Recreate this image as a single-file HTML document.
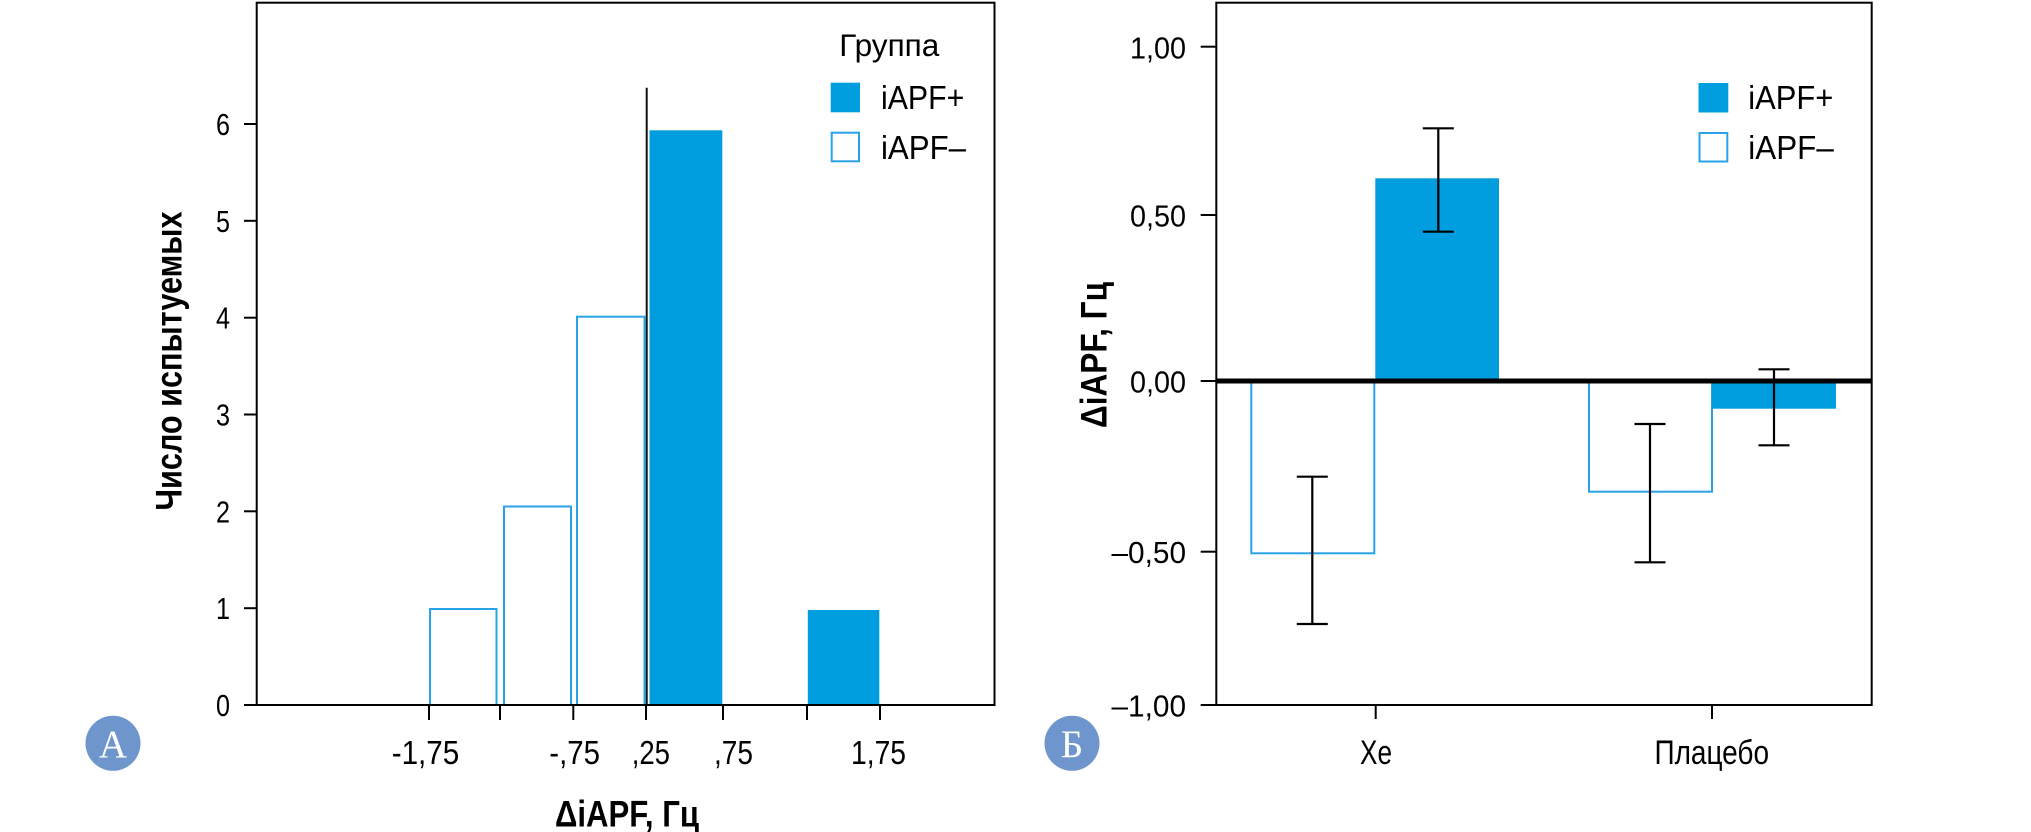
<!DOCTYPE html>
<html>
<head>
<meta charset="utf-8">
<style>
  html, body { margin: 0; padding: 0; background: #ffffff; }
  svg { display: block; }
  .t { font-family: "Liberation Sans", "DejaVu Sans", sans-serif; fill: #000; }
  .b { font-family: "Liberation Sans", "DejaVu Sans", sans-serif; font-weight: bold; fill: #000; }
  .s { font-family: "Liberation Serif", "DejaVu Serif", serif; fill: #fff; }
</style>
</head>
<body>
<svg width="2031" height="832" viewBox="0 0 2031 832" xmlns="http://www.w3.org/2000/svg">
  <rect x="0" y="0" width="2031" height="832" fill="#ffffff"/>

  <!-- ================= CHART A ================= -->
  <g fill="none" stroke="#2aa3e6" stroke-width="2">
    <rect x="430" y="609" width="66.5" height="96"/>
    <rect x="504" y="506.5" width="67" height="198.5"/>
    <rect x="577" y="316.7" width="67.5" height="388.3"/>
  </g>
  <g fill="#009ddf">
    <rect x="649.5" y="130.3" width="72.8" height="574.7"/>
    <rect x="807.8" y="610" width="71.5" height="95"/>
  </g>
  <line x1="646.7" y1="87.7" x2="646.7" y2="705" stroke="#111" stroke-width="2"/>
  <rect x="256.7" y="2.7" width="737.8" height="702.3" fill="none" stroke="#000" stroke-width="2"/>
  <g stroke="#000" stroke-width="2">
    <line x1="244" y1="705" x2="257" y2="705"/>
    <line x1="244" y1="608.2" x2="257" y2="608.2"/>
    <line x1="244" y1="511.3" x2="257" y2="511.3"/>
    <line x1="244" y1="414.5" x2="257" y2="414.5"/>
    <line x1="244" y1="317.7" x2="257" y2="317.7"/>
    <line x1="244" y1="220.8" x2="257" y2="220.8"/>
    <line x1="244" y1="124" x2="257" y2="124"/>
  </g>
  <g class="t" font-size="31">
    <text x="216" y="716" textLength="14" lengthAdjust="spacingAndGlyphs">0</text>
    <text x="216" y="619.2" textLength="14" lengthAdjust="spacingAndGlyphs">1</text>
    <text x="216" y="522.3" textLength="14" lengthAdjust="spacingAndGlyphs">2</text>
    <text x="216" y="425.5" textLength="14" lengthAdjust="spacingAndGlyphs">3</text>
    <text x="216" y="328.7" textLength="14" lengthAdjust="spacingAndGlyphs">4</text>
    <text x="216" y="231.8" textLength="14" lengthAdjust="spacingAndGlyphs">5</text>
    <text x="216" y="135" textLength="14" lengthAdjust="spacingAndGlyphs">6</text>
  </g>
  <g stroke="#000" stroke-width="2">
    <line x1="429" y1="705" x2="429" y2="720"/>
    <line x1="500" y1="705" x2="500" y2="720"/>
    <line x1="573.3" y1="705" x2="573.3" y2="720"/>
    <line x1="646" y1="705" x2="646" y2="720"/>
    <line x1="723" y1="705" x2="723" y2="720"/>
    <line x1="807" y1="705" x2="807" y2="720"/>
    <line x1="880" y1="705" x2="880" y2="720"/>
  </g>
  <g class="t" font-size="33.5">
    <text x="391.7" y="764" textLength="67.6" lengthAdjust="spacingAndGlyphs">-1,75</text>
    <text x="549.3" y="764" textLength="50.7" lengthAdjust="spacingAndGlyphs">-,75</text>
    <text x="631.7" y="764" textLength="38.3" lengthAdjust="spacingAndGlyphs">,25</text>
    <text x="714" y="764" textLength="39" lengthAdjust="spacingAndGlyphs">,75</text>
    <text x="851" y="764" textLength="55" lengthAdjust="spacingAndGlyphs">1,75</text>
  </g>
  <text class="b" x="555" y="826.5" font-size="37" textLength="144" lengthAdjust="spacingAndGlyphs">ΔiAPF, Гц</text>
  <text class="b" font-size="37" text-anchor="middle" transform="translate(181.5,361) rotate(-90)" textLength="299" lengthAdjust="spacingAndGlyphs">Число испытуемых</text>
  <text class="t" x="839.3" y="56" font-size="31.7" textLength="100" lengthAdjust="spacingAndGlyphs">Группа</text>
  <rect x="830.7" y="82.7" width="29.3" height="29.6" fill="#009ddf"/>
  <rect x="831.7" y="132.7" width="27.3" height="28.6" fill="none" stroke="#2aa3e6" stroke-width="2"/>
  <g class="t" font-size="33.5">
    <text x="881" y="109" textLength="83.3" lengthAdjust="spacingAndGlyphs">iAPF+</text>
    <text x="881" y="159" textLength="85" lengthAdjust="spacingAndGlyphs">iAPF–</text>
  </g>
  <circle cx="113" cy="743.3" r="27.5" fill="#6f95cd"/>
  <text class="s" x="113" y="757" font-size="39" text-anchor="middle">A</text>

  <!-- ================= CHART B ================= -->
  <rect x="1251.3" y="381" width="123" height="172.3" fill="none" stroke="#2aa3e6" stroke-width="2"/>
  <rect x="1375.3" y="178.3" width="123.7" height="202.7" fill="#009ddf"/>
  <rect x="1589" y="381" width="123" height="110.7" fill="none" stroke="#2aa3e6" stroke-width="2"/>
  <rect x="1712" y="381" width="124" height="27.7" fill="#009ddf"/>
  <line x1="1216.3" y1="381" x2="1871.7" y2="381" stroke="#000" stroke-width="5"/>
  <g stroke="#000" stroke-width="2.2" fill="none">
    <line x1="1312.3" y1="476.7" x2="1312.3" y2="624"/>
    <line x1="1296.8" y1="476.7" x2="1327.8" y2="476.7"/>
    <line x1="1296.8" y1="624" x2="1327.8" y2="624"/>

    <line x1="1438.3" y1="128.3" x2="1438.3" y2="231.7"/>
    <line x1="1422.8" y1="128.3" x2="1453.8" y2="128.3"/>
    <line x1="1422.8" y1="231.7" x2="1453.8" y2="231.7"/>

    <line x1="1650" y1="424" x2="1650" y2="562.3"/>
    <line x1="1634.5" y1="424" x2="1665.5" y2="424"/>
    <line x1="1634.5" y1="562.3" x2="1665.5" y2="562.3"/>

    <line x1="1774" y1="369.3" x2="1774" y2="445.3"/>
    <line x1="1758.5" y1="369.3" x2="1789.5" y2="369.3"/>
    <line x1="1758.5" y1="445.3" x2="1789.5" y2="445.3"/>
  </g>
  <rect x="1216.3" y="2.7" width="655.4" height="702.3" fill="none" stroke="#000" stroke-width="2"/>
  <g stroke="#000" stroke-width="2">
    <line x1="1200.7" y1="46.7" x2="1216.3" y2="46.7"/>
    <line x1="1200.7" y1="215" x2="1216.3" y2="215"/>
    <line x1="1200.7" y1="381" x2="1216.3" y2="381"/>
    <line x1="1200.7" y1="551.7" x2="1216.3" y2="551.7"/>
    <line x1="1200.7" y1="705" x2="1216.3" y2="705"/>
  </g>
  <g class="t" font-size="31" text-anchor="end">
    <text x="1186" y="58.5" textLength="56" lengthAdjust="spacingAndGlyphs">1,00</text>
    <text x="1186" y="226.5" textLength="56" lengthAdjust="spacingAndGlyphs">0,50</text>
    <text x="1186" y="392.5" textLength="56" lengthAdjust="spacingAndGlyphs">0,00</text>
    <text x="1186" y="563" textLength="74.5" lengthAdjust="spacingAndGlyphs">–0,50</text>
    <text x="1186" y="716.5" textLength="74.5" lengthAdjust="spacingAndGlyphs">–1,00</text>
  </g>
  <g stroke="#000" stroke-width="2">
    <line x1="1375.7" y1="705" x2="1375.7" y2="719"/>
    <line x1="1712" y1="705" x2="1712" y2="719"/>
  </g>
  <g class="t" font-size="34">
    <text x="1360" y="764" textLength="32" lengthAdjust="spacingAndGlyphs">Xe</text>
    <text x="1654.5" y="764" textLength="114.5" lengthAdjust="spacingAndGlyphs">Плацебо</text>
  </g>
  <text class="b" font-size="37" text-anchor="middle" transform="translate(1106.5,355) rotate(-90)" textLength="146" lengthAdjust="spacingAndGlyphs">ΔiAPF, Гц</text>
  <rect x="1698.5" y="83" width="29.8" height="29.5" fill="#009ddf"/>
  <rect x="1699.5" y="133" width="27.8" height="28.5" fill="none" stroke="#2aa3e6" stroke-width="2"/>
  <g class="t" font-size="33.5">
    <text x="1748.3" y="109" textLength="85" lengthAdjust="spacingAndGlyphs">iAPF+</text>
    <text x="1748.3" y="159" textLength="85.5" lengthAdjust="spacingAndGlyphs">iAPF–</text>
  </g>
  <circle cx="1072" cy="743.3" r="27.5" fill="#6f95cd"/>
  <text class="s" x="1072" y="757" font-size="39" text-anchor="middle">Б</text>
</svg>
</body>
</html>
